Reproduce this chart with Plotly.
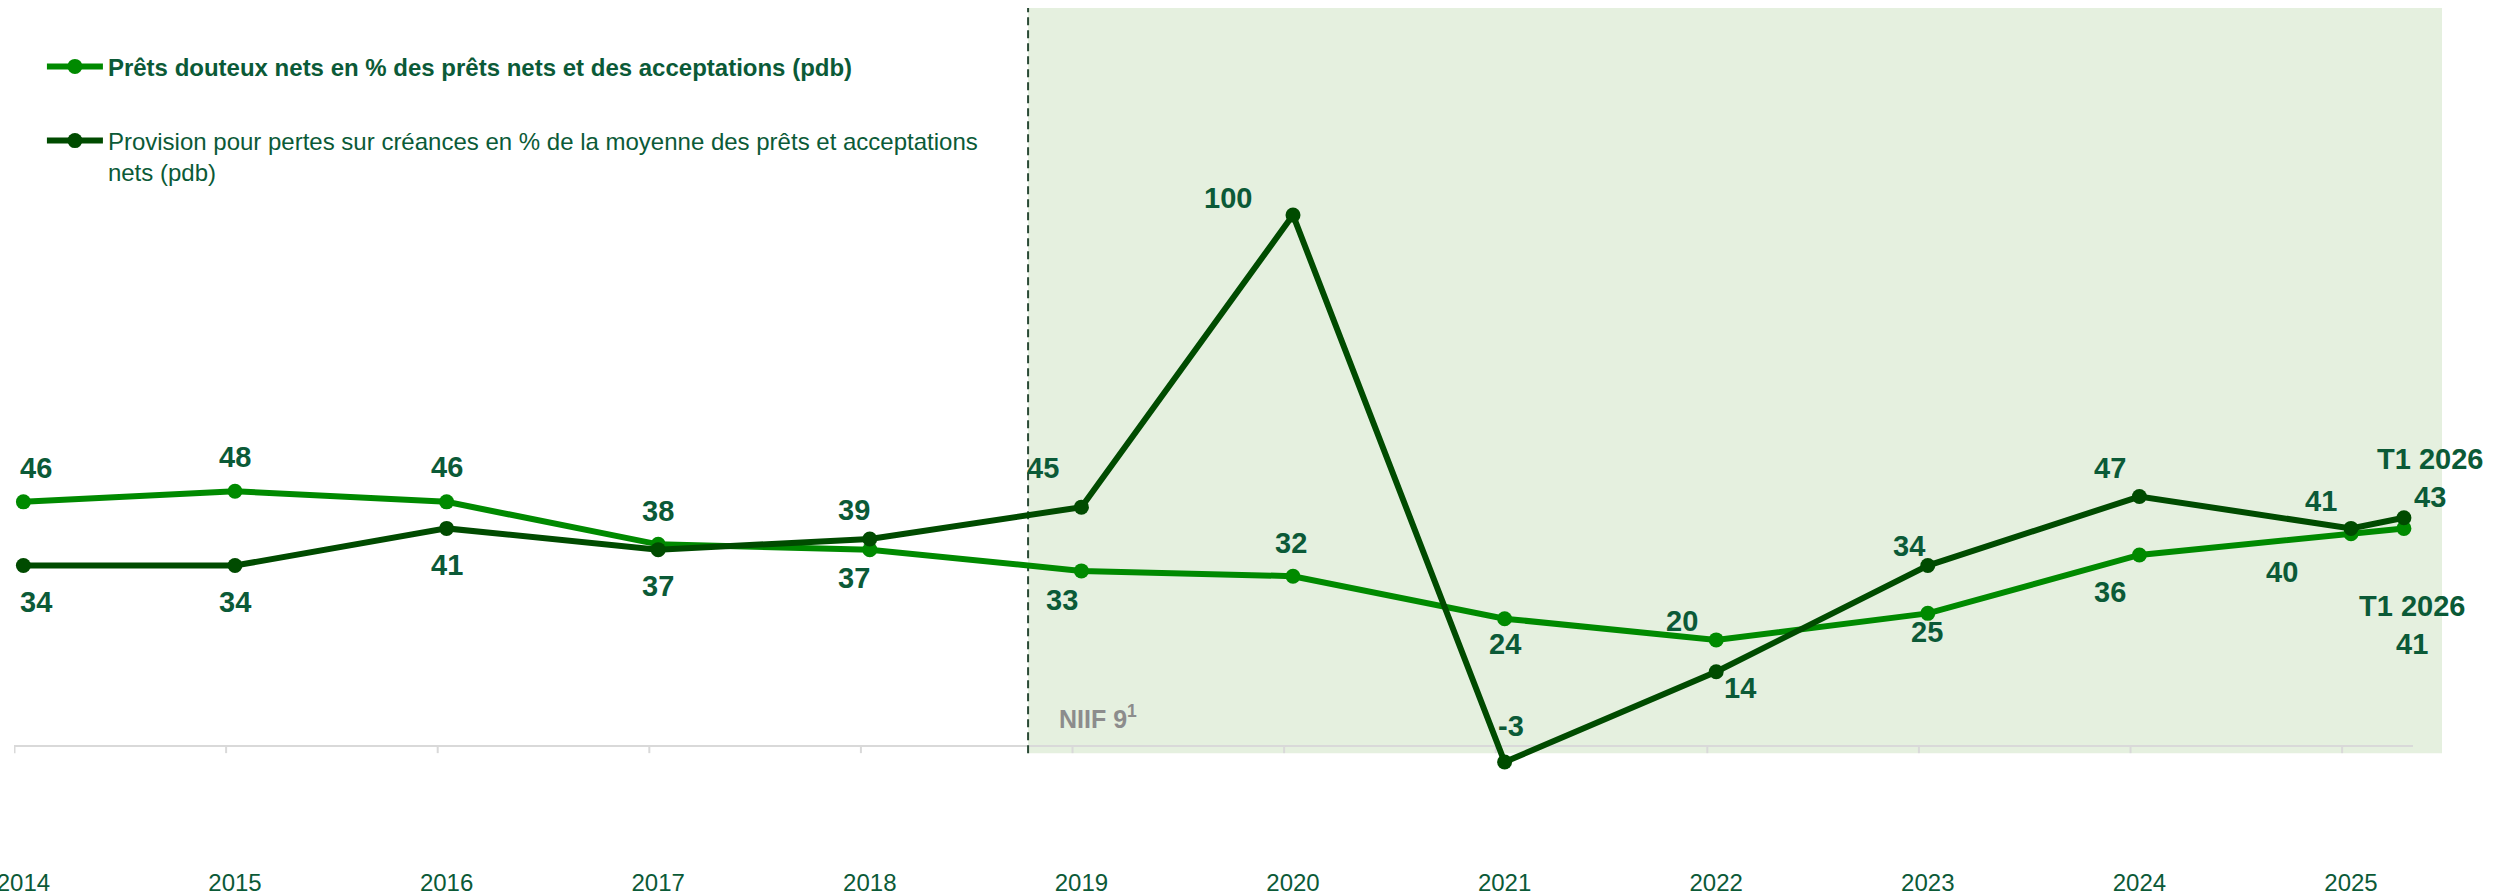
import plotly.graph_objects as go

# ---- data -------------------------------------------------------------
PERIOD_LABELS = ["2014", "2015", "2016", "2017", "2018", "2019", "2020",
                 "2021", "2022", "2023", "2024", "2025", "T1 2026"]
# fiscal year position on the time axis (T1 2026 = first quarter after 2025)
PERIOD_X = [2014, 2015, 2016, 2017, 2018, 2019, 2020,
            2021, 2022, 2023, 2024, 2025, 2025.25]

PRETS_DOUTEUX = [46, 48, 46, 38, 37, 33, 32, 24, 20, 25, 36, 40, 41]
PROVISION = [34, 34, 41, 37, 39, 45, 100, -3, 14, 34, 47, 41, 43]

YEAR_TICKS = [2014, 2015, 2016, 2017, 2018, 2019, 2020,
              2021, 2022, 2023, 2024, 2025]
YEAR_TICK_TEXT = [str(y) for y in YEAR_TICKS]

NAME_DOUTEUX = "<b>Prêts douteux nets en % des prêts nets et des acceptations (pdb)</b>"
NAME_PROVISION = ("Provision pour pertes sur créances en % de la moyenne des prêts et acceptations"
                  "<br>nets (pdb)")
IFRS9_START = 2018.748          # adoption of IFRS 9 (NIIF 9)
IFRS9_LABEL = "NIIF 9<sup>1</sup>"

# ---- styling ------------------------------------------------------------
FONT = "Liberation Sans, Arial, sans-serif"
TEXT = "#0b5a37"
LIGHT = "#008a00"
DARK = "#004b00"
SHADE = "#e5f0df"
AXIS_GREY = "#d9d9d9"

X_MIN, X_MAX = 2013.9556, 2025.43
AXIS_END = 2025.293
Y_MIN, Y_MAX = -6.38, 139.0
TICK_DROP = -1.32               # tick marks hang slightly below zero
TICK_LEAD = 0.042

# label offsets in pixels (dx right, dy down) for each point
SHIFT_DOUTEUX = [(13, -34), (0, -34), (0, -35), (0, -33), (-16, 28), (-19, 29),
                 (-2, -33), (0, 25), (-34, -19), (-1, 19), (-29, 37), (-69, 38), (8, 97)]
SHIFT_PROVISION = [(13, 36), (0, 36), (0, 37), (0, 36), (-16, -29), (-38, -39),
                   (-65, -17), (6, -36), (24, 16), (-19, -20), (-29, -29), (-30, -27), (26, -40)]

fig = go.Figure()

fig.add_trace(go.Scatter(
    x=PERIOD_X, y=PRETS_DOUTEUX, mode="lines+markers", name=NAME_DOUTEUX,
    line=dict(color=LIGHT, width=6), marker=dict(size=15, color=LIGHT),
    legendgroup="a", cliponaxis=False, hoverinfo="skip"))
fig.add_trace(go.Scatter(
    x=PERIOD_X, y=PROVISION, mode="lines+markers", name=NAME_PROVISION,
    line=dict(color=DARK, width=6), marker=dict(size=15, color=DARK),
    legendgroup="b", cliponaxis=False, hoverinfo="skip"))

# IFRS 9 period shading, separator, baseline and tick marks
shapes = [
    dict(type="rect", xref="x", yref="y", x0=IFRS9_START, x1=X_MAX, y0=TICK_DROP, y1=Y_MAX,
         fillcolor=SHADE, line=dict(width=0), layer="below"),
    dict(type="line", xref="x", yref="y", x0=X_MIN, x1=AXIS_END, y0=0, y1=0,
         line=dict(color=AXIS_GREY, width=2), layer="below"),
    dict(type="line", xref="x", yref="y", x0=IFRS9_START, x1=IFRS9_START, y0=TICK_DROP, y1=Y_MAX,
         line=dict(color="#2a4a35", width=2, dash="8px,5px"), layer="below"),
]
for yr in YEAR_TICKS:
    shapes.append(dict(type="line", xref="x", yref="y", x0=yr - TICK_LEAD, x1=yr - TICK_LEAD,
                       y0=0, y1=TICK_DROP, line=dict(color=AXIS_GREY, width=2), layer="below"))

annotations = []


def point_label(i, x, v, shift):
    text = str(v)
    if PERIOD_LABELS[i].startswith("T"):
        text = PERIOD_LABELS[i] + "<br>" + text
    annotations.append(dict(
        x=x, y=v, xref="x", yref="y", text=text, showarrow=False,
        xanchor="center", yanchor="middle", xshift=shift[0], yshift=-shift[1],
        font=dict(family=FONT, size=29, color=TEXT, weight="bold")))


for i, (x, v) in enumerate(zip(PERIOD_X, PRETS_DOUTEUX)):
    point_label(i, x, v, SHIFT_DOUTEUX[i])
for i, (x, v) in enumerate(zip(PERIOD_X, PROVISION)):
    point_label(i, x, v, SHIFT_PROVISION[i])

annotations.append(dict(
    x=IFRS9_START, y=0, xref="x", yref="y", text=IFRS9_LABEL, showarrow=False,
    xanchor="left", yanchor="middle", xshift=29, yshift=29,
    font=dict(family=FONT, size=25, color="#8c8c8c", weight="bold")))

fig.update_layout(
    width=2496, height=894,
    margin=dict(l=14, r=54, t=8, b=114),
    paper_bgcolor="white", plot_bgcolor="white",
    font=dict(family=FONT, color=TEXT),
    shapes=shapes, annotations=annotations,
    showlegend=True,
    legend=dict(x=0.0115, y=0.953, xanchor="left", yanchor="top",
                font=dict(family=FONT, size=24, color=TEXT),
                itemwidth=56, traceorder="grouped", tracegroupgap=40,
                valign="top", bgcolor="rgba(0,0,0,0)"),
    xaxis=dict(range=[X_MIN, X_MAX], tickmode="array", tickvals=YEAR_TICKS,
               ticktext=YEAR_TICK_TEXT, ticks="", showgrid=False, zeroline=False,
               showline=False, automargin=False, ticklabelstandoff=86,
               ticklabeloverflow="allow",
               tickfont=dict(family=FONT, size=24, color=TEXT)),
    yaxis=dict(range=[Y_MIN, Y_MAX], visible=False, showgrid=False, zeroline=False),
)

fig.write_html("out.html")
